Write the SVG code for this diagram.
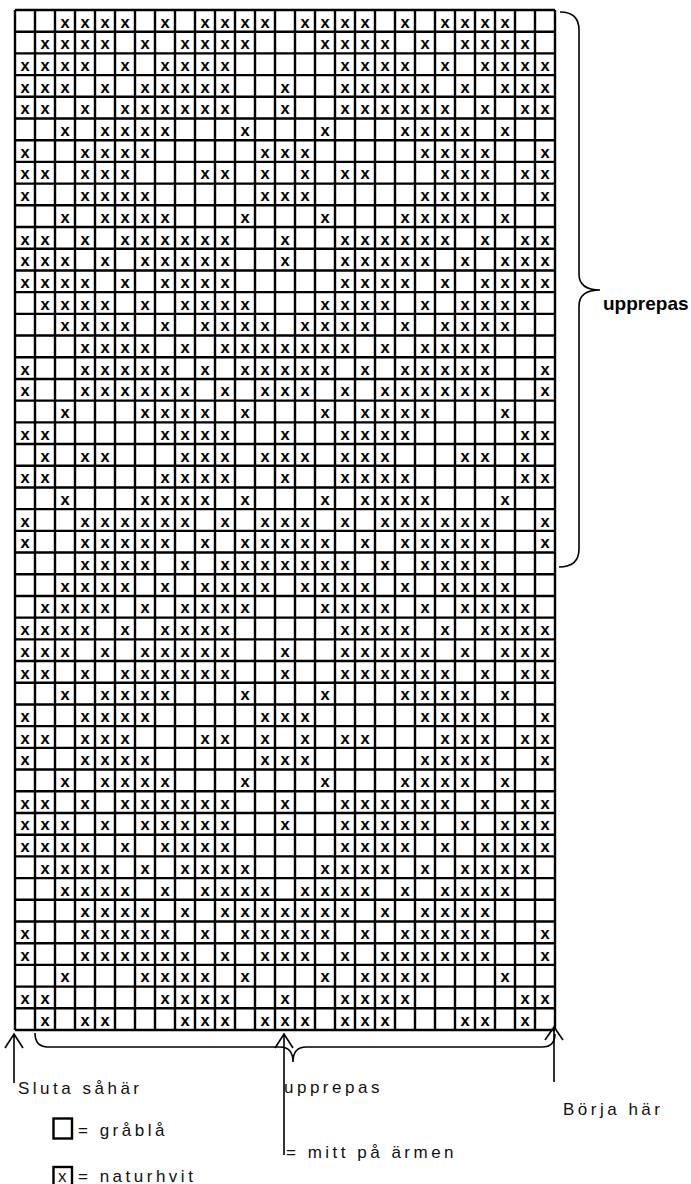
<svg xmlns="http://www.w3.org/2000/svg" width="691" height="1184" viewBox="0 0 691 1184">
<style>
.m{font-family:"Liberation Sans",Arial,sans-serif;font-size:16.5px;font-weight:bold;fill:#000;text-anchor:middle}
.grid{fill:none;stroke:#000;stroke-width:2.4}
.ln{fill:none;stroke:#000;stroke-width:1.6}
.lbl{font-family:"Liberation Sans",Arial,sans-serif;font-size:17px;letter-spacing:3.5px;fill:#111}
.bold{font-family:"Liberation Sans",Arial,sans-serif;font-size:19px;font-weight:bold;fill:#000}
</style>
<rect x="0" y="0" width="691" height="1184" fill="#fff"/>
<g id="marks" transform="translate(0,2.5)">
<text class="m" y="25.00" x="65 85 105 125 165 205 225 245 265 305 325 345 365 405 445 465 485 505">xxxxxxxxxxxxxxxxxx</text>
<text class="m" y="46.70" x="45 65 85 105 145 185 205 225 245 325 345 365 385 425 465 485 505 525">xxxxxxxxxxxxxxxxxx</text>
<text class="m" y="68.40" x="25 45 65 85 125 165 185 205 225 345 365 385 405 445 485 505 525 545">xxxxxxxxxxxxxxxxxx</text>
<text class="m" y="90.11" x="25 45 65 105 145 165 185 205 225 285 345 365 385 405 425 465 505 525 545">xxxxxxxxxxxxxxxxxxx</text>
<text class="m" y="111.81" x="25 45 85 125 145 165 185 205 225 285 345 365 385 405 425 445 485 525 545">xxxxxxxxxxxxxxxxxxx</text>
<text class="m" y="133.51" x="65 105 125 145 165 245 325 405 425 445 465 505">xxxxxxxxxxxx</text>
<text class="m" y="155.21" x="25 85 105 125 145 265 285 305 425 445 465 485 545">xxxxxxxxxxxxx</text>
<text class="m" y="176.91" x="25 45 85 105 125 205 225 265 305 345 365 445 465 485 525 545">xxxxxxxxxxxxxxxx</text>
<text class="m" y="198.62" x="25 85 105 125 145 265 285 305 425 445 465 485 545">xxxxxxxxxxxxx</text>
<text class="m" y="220.32" x="65 105 125 145 165 245 325 405 425 445 465 505">xxxxxxxxxxxx</text>
<text class="m" y="242.02" x="25 45 85 125 145 165 185 205 225 285 345 365 385 405 425 445 485 525 545">xxxxxxxxxxxxxxxxxxx</text>
<text class="m" y="263.72" x="25 45 65 105 145 165 185 205 225 285 345 365 385 405 425 465 505 525 545">xxxxxxxxxxxxxxxxxxx</text>
<text class="m" y="285.43" x="25 45 65 85 125 165 185 205 225 345 365 385 405 445 485 505 525 545">xxxxxxxxxxxxxxxxxx</text>
<text class="m" y="307.13" x="45 65 85 105 145 185 205 225 245 325 345 365 385 425 465 485 505 525">xxxxxxxxxxxxxxxxxx</text>
<text class="m" y="328.83" x="65 85 105 125 165 205 225 245 265 305 325 345 365 405 445 465 485 505">xxxxxxxxxxxxxxxxxx</text>
<text class="m" y="350.53" x="85 105 125 145 185 225 245 265 285 305 325 345 385 425 445 465 485">xxxxxxxxxxxxxxxxx</text>
<text class="m" y="372.23" x="25 85 105 125 145 165 205 245 265 285 305 325 365 405 425 445 465 485 545">xxxxxxxxxxxxxxxxxxx</text>
<text class="m" y="393.94" x="25 85 105 125 145 165 185 225 265 285 305 345 385 405 425 445 465 485 545">xxxxxxxxxxxxxxxxxxx</text>
<text class="m" y="415.64" x="65 145 165 185 205 245 325 365 385 405 425 505">xxxxxxxxxxxx</text>
<text class="m" y="437.34" x="25 45 165 185 205 225 285 345 365 385 405 525 545">xxxxxxxxxxxxx</text>
<text class="m" y="459.04" x="45 85 105 185 205 225 265 285 305 345 365 385 465 485 525">xxxxxxxxxxxxxxx</text>
<text class="m" y="480.74" x="25 45 165 185 205 225 285 345 365 385 405 525 545">xxxxxxxxxxxxx</text>
<text class="m" y="502.45" x="65 145 165 185 205 245 325 365 385 405 425 505">xxxxxxxxxxxx</text>
<text class="m" y="524.15" x="25 85 105 125 145 165 185 225 265 285 305 345 385 405 425 445 465 485 545">xxxxxxxxxxxxxxxxxxx</text>
<text class="m" y="545.85" x="25 85 105 125 145 165 205 245 265 285 305 325 365 405 425 445 465 485 545">xxxxxxxxxxxxxxxxxxx</text>
<text class="m" y="567.55" x="85 105 125 145 185 225 245 265 285 305 325 345 385 425 445 465 485">xxxxxxxxxxxxxxxxx</text>
<text class="m" y="589.26" x="65 85 105 125 165 205 225 245 265 305 325 345 365 405 445 465 485 505">xxxxxxxxxxxxxxxxxx</text>
<text class="m" y="610.96" x="45 65 85 105 145 185 205 225 245 325 345 365 385 425 465 485 505 525">xxxxxxxxxxxxxxxxxx</text>
<text class="m" y="632.66" x="25 45 65 85 125 165 185 205 225 345 365 385 405 445 485 505 525 545">xxxxxxxxxxxxxxxxxx</text>
<text class="m" y="654.36" x="25 45 65 105 145 165 185 205 225 285 345 365 385 405 425 465 505 525 545">xxxxxxxxxxxxxxxxxxx</text>
<text class="m" y="676.06" x="25 45 85 125 145 165 185 205 225 285 345 365 385 405 425 445 485 525 545">xxxxxxxxxxxxxxxxxxx</text>
<text class="m" y="697.77" x="65 105 125 145 165 245 325 405 425 445 465 505">xxxxxxxxxxxx</text>
<text class="m" y="719.47" x="25 85 105 125 145 265 285 305 425 445 465 485 545">xxxxxxxxxxxxx</text>
<text class="m" y="741.17" x="25 45 85 105 125 205 225 265 305 345 365 445 465 485 525 545">xxxxxxxxxxxxxxxx</text>
<text class="m" y="762.87" x="25 85 105 125 145 265 285 305 425 445 465 485 545">xxxxxxxxxxxxx</text>
<text class="m" y="784.57" x="65 105 125 145 165 245 325 405 425 445 465 505">xxxxxxxxxxxx</text>
<text class="m" y="806.28" x="25 45 85 125 145 165 185 205 225 285 345 365 385 405 425 445 485 525 545">xxxxxxxxxxxxxxxxxxx</text>
<text class="m" y="827.98" x="25 45 65 105 145 165 185 205 225 285 345 365 385 405 425 465 505 525 545">xxxxxxxxxxxxxxxxxxx</text>
<text class="m" y="849.68" x="25 45 65 85 125 165 185 205 225 345 365 385 405 445 485 505 525 545">xxxxxxxxxxxxxxxxxx</text>
<text class="m" y="871.38" x="45 65 85 105 145 185 205 225 245 325 345 365 385 425 465 485 505 525">xxxxxxxxxxxxxxxxxx</text>
<text class="m" y="893.09" x="65 85 105 125 165 205 225 245 265 305 325 345 365 405 445 465 485 505">xxxxxxxxxxxxxxxxxx</text>
<text class="m" y="914.79" x="85 105 125 145 185 225 245 265 285 305 325 345 385 425 445 465 485">xxxxxxxxxxxxxxxxx</text>
<text class="m" y="936.49" x="25 85 105 125 145 165 205 245 265 285 305 325 365 405 425 445 465 485 545">xxxxxxxxxxxxxxxxxxx</text>
<text class="m" y="958.19" x="25 85 105 125 145 165 185 225 265 285 305 345 385 405 425 445 465 485 545">xxxxxxxxxxxxxxxxxxx</text>
<text class="m" y="979.89" x="65 145 165 185 205 245 325 365 385 405 425 505">xxxxxxxxxxxx</text>
<text class="m" y="1001.60" x="25 45 165 185 205 225 285 345 365 385 405 525 545">xxxxxxxxxxxxx</text>
<text class="m" y="1023.30" x="45 85 105 185 205 225 265 285 305 345 365 385 465 485 525">xxxxxxxxxxxxxxx</text>
</g>
<g id="grid">
<path class="grid" d="M15 10H555M15 31.70H555M15 53.40H555M15 75.11H555M15 96.81H555M15 118.51H555M15 140.21H555M15 161.91H555M15 183.62H555M15 205.32H555M15 227.02H555M15 248.72H555M15 270.43H555M15 292.13H555M15 313.83H555M15 335.53H555M15 357.23H555M15 378.94H555M15 400.64H555M15 422.34H555M15 444.04H555M15 465.74H555M15 487.45H555M15 509.15H555M15 530.85H555M15 552.55H555M15 574.26H555M15 595.96H555M15 617.66H555M15 639.36H555M15 661.06H555M15 682.77H555M15 704.47H555M15 726.17H555M15 747.87H555M15 769.57H555M15 791.28H555M15 812.98H555M15 834.68H555M15 856.38H555M15 878.09H555M15 899.79H555M15 921.49H555M15 943.19H555M15 964.89H555M15 986.60H555M15 1008.30H555M15 1030H555"/>
<path class="grid" d="M15 10V1030M35 10V1030M55 10V1030M75 10V1030M95 10V1030M115 10V1030M135 10V1030M155 10V1030M175 10V1030M195 10V1030M215 10V1030M235 10V1030M255 10V1030M275 10V1030M295 10V1030M315 10V1030M335 10V1030M355 10V1030M375 10V1030M395 10V1030M415 10V1030M435 10V1030M455 10V1030M475 10V1030M495 10V1030M515 10V1030M535 10V1030M555 10V1030"/>
</g>
<g id="connectors">
<path class="ln" d="M560 12Q579 12 579 30L579 274Q579 290 600 290Q579 290 579 306L579 549Q579 567 559 567"/>
<path class="ln" d="M35 1033Q35 1047 48 1047L280 1047Q293 1047 293 1062Q293 1047 306 1047L542 1047Q555 1047 555 1034"/>
<path class="ln" d="M14 1083V1034M5 1048L14 1034L23 1048"/>
<path class="ln" d="M284 1155V1034M275 1048L284 1034L293 1048"/>
<path class="ln" d="M554 1082V1027M545 1040L554 1027L563 1040"/>
</g>
<g id="labels">
<text class="bold" x="603" y="310">upprepas</text>
<text class="lbl" x="18" y="1094">Sluta såhär</text>
<text class="lbl" x="284" y="1093">upprepas</text>
<text class="lbl" x="563" y="1115">Börja här</text>
<text class="lbl" x="286" y="1158">= mitt på ärmen</text>
</g>
<g id="legend-grablaa">
<rect x="53.5" y="1118.5" width="18.5" height="20" fill="#fff" stroke="#000" stroke-width="2.4"/>
<text class="lbl" x="78" y="1136">= gråblå</text>
</g>
<g id="legend-naturhvit">
<rect x="53.5" y="1167" width="18.5" height="20" fill="#fff" stroke="#000" stroke-width="2.4"/>
<text x="58" y="1182" style="font-family:'Liberation Sans',Arial,sans-serif;font-size:17px;fill:#111">x</text>
<text class="lbl" x="78" y="1182">= naturhvit</text>
</g>
</svg>
